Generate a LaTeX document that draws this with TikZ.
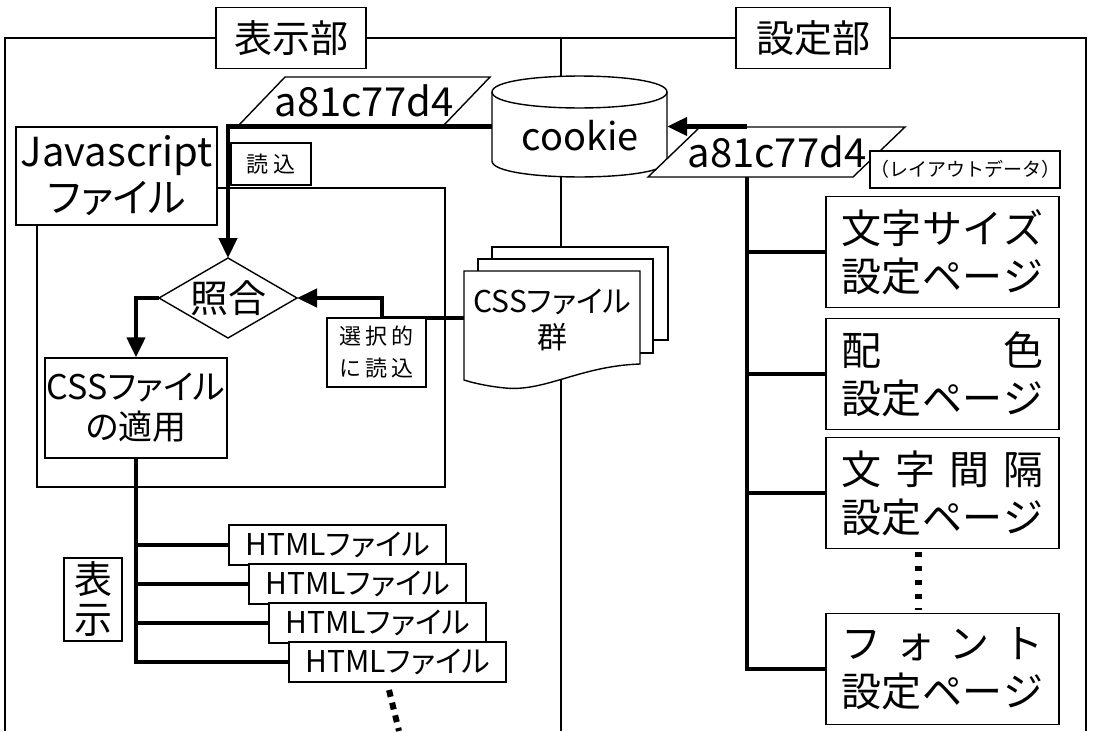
\documentclass[tikz,border=0pt]{standalone}
\usepackage{fontspec}
\setmainfont{Noto Sans CJK JP}
\newfontfamily\jpp[RawFeature=+palt]{Noto Sans CJK JP}
\usetikzlibrary{arrows.meta}
\newcommand{\setfs}[2]{\fontsize{#1}{#2}\selectfont}
\newcommand{\spreadline}[1]{\makebox[202pt][s]{#1}}
\tikzset{
  frm/.style={line width=1.3pt},
  boxline/.style={line width=1.4pt},
  boxn/.style={draw, line width=1.4pt, fill=white, inner sep=0pt},
  conn/.style={line width=4.5pt},
  arr/.style={-{Triangle[length=20pt,width=18pt]}},
  dots/.style={line width=7pt, dash pattern=on 5pt off 9pt}
}
\begin{document}
\begin{tikzpicture}[x=1pt,y=-1pt]
\useasboundingbox (0,0) rectangle (1094,731);
% titles
\node[boxn, minimum width=150pt, minimum height=61pt, font=\setfs{38}{38}] (t1) at (291,38) {表示部};
\node[boxn, minimum width=154pt, minimum height=61pt, font=\setfs{38}{38}] (t2) at (813,38) {設定部};
% frames
\draw[frm] (5,731) -- (5,38) -- (t1.west);
\draw[frm] (t1.east) -- (t2.west);
\draw[frm] (t2.east) -- (1086,38) -- (1086,731);
\draw[frm] (561,38) -- (561,731);
\draw[frm] (37,188) rectangle (445,487);
% Javascript box
\node[boxn, minimum width=201pt, minimum height=98pt, align=center, font=\setfs{40}{46}] (js) at (116.5,176) {Javascript\\{\jpp ファイル}};
% cookie cylinder
\node[minimum width=175pt, minimum height=101pt, inner sep=0pt] (ck) at (579.5,126.5) {};
\draw[boxline, fill=white] (492,92) .. controls (492,70.7) and (667,70.7) .. (667,92) -- (667,161) .. controls (667,182.3) and (492,182.3) .. (492,161) -- cycle;
\draw[boxline] (492,92) .. controls (492,113.3) and (667,113.3) .. (667,92);
\node[font=\setfs{38}{38}] (cktext) at (580,136) {cookie};
% left parallelogram
\draw[boxline, fill=white] (239,125) -- (285,77) -- (490,77) -- (444,125) -- cycle;
\node[font=\setfs{40}{40}] (pl) at (364,101) {a81c77d4};
% diamond
\coordinate (dtop) at (228,258);
\coordinate (dleft) at (159,298);
\coordinate (dright) at (297,298);
\coordinate (dbot) at (228,338);
\draw[boxline, fill=white] (dleft) -- (dtop) -- (dright) -- (dbot) -- cycle;
\node[font=\setfs{38}{38}] (dm) at (228,298) {照合};
\draw[conn, arr] (ck.west) -| (dtop);
\node[boxn, minimum width=80pt, minimum height=42pt, font=\setfs{22}{22}] (rd) at (271,164) {読\hspace{6pt}込};
% CSS document stack
\draw[boxline, fill=white] (492,247) rectangle (668,340);
\draw[boxline, fill=white] (478,259) rectangle (653,353);
\draw[boxline, fill=white] (464,271) -- (640,271) -- (640,364) .. controls (580,366) and (545,392) .. (505,388) .. controls (485,386) and (470,382) .. (464,380) -- cycle;
\node[align=center, font=\setfs{30}{36}\jpp] (css) at (552,320) {CSSファイル\\群};
\coordinate (cssw) at (464,318);
\draw[conn, arr] (cssw) -- ++(-82,0) |- (dright);
\node[boxn, minimum width=99pt, minimum height=69pt, align=center, font=\setfs{22}{32}] (sel) at (376.5,352.5) {選\,択\,的\\に\,読\,込};
% CSS apply
\node[boxn, minimum width=182pt, minimum height=100pt, align=center, font=\setfs{34}{40}\jpp] (cssa) at (136,408) {CSSファイル\\の適用};
\draw[conn, arr] (dleft) -| (cssa.north);
% HTML files
\node[boxn, minimum width=217pt, minimum height=40pt, font=\setfs{30}{30}\jpp] (h1) at (337.5,545) {HTMLファイル};
\node[boxn, minimum width=217pt, minimum height=40pt, font=\setfs{30}{30}\jpp] (h2) at (357.5,584) {HTMLファイル};
\node[boxn, minimum width=217pt, minimum height=40pt, font=\setfs{30}{30}\jpp] (h3) at (377.5,623) {HTMLファイル};
\node[boxn, minimum width=217pt, minimum height=40pt, font=\setfs{30}{30}\jpp] (h4) at (397.5,662) {HTMLファイル};
\draw[conn] (cssa.south) |- (h4.west);
\draw[conn] (cssa.south |- h1.west) -- (h1.west);
\draw[conn] (cssa.south |- h2.west) -- (h2.west);
\draw[conn] (cssa.south |- h3.west) -- (h3.west);
\node[boxn, minimum width=58pt, minimum height=83pt, align=center, font=\setfs{38}{40}] (hy) at (93,599.5) {表\\示};
\coordinate (hd1) at (389,690);
\coordinate (hd2) at (399,731);
\draw[line width=6pt, dash pattern=on 7pt off 6pt] (hd1) -- (hd2);
% right parallelogram
\draw[boxline, fill=white] (648,177) -- (700,127) -- (905,127) -- (853,177) -- cycle;
\node[font=\setfs{40}{40}] (pr) at (777,152) {a81c77d4};
\node[boxn, minimum width=184pt, minimum height=37pt, font=\setfs{19}{19}] (lay) at (965,169.5) {（レイアウトデータ）};
\coordinate (rj) at (747,126.5);
\draw[conn, arr] (rj) -- (ck.east);
% right boxes
\node[boxn, minimum width=233pt, minimum height=111pt, align=center, font=\setfs{40}{48}] (r1) at (942.5,252) {\spreadline{文\hfill 字\hfill サ\hfill イ\hfill ズ}\\\spreadline{設\hfill 定\hfill ペ\hfill ー\hfill ジ}};
\node[boxn, minimum width=233pt, minimum height=111pt, align=center, font=\setfs{40}{48}] (r2) at (942.5,374) {\spreadline{配\hfill 色}\\\spreadline{設\hfill 定\hfill ペ\hfill ー\hfill ジ}};
\node[boxn, minimum width=233pt, minimum height=111pt, align=center, font=\setfs{40}{48}] (r3) at (942.5,493) {\spreadline{文\hfill 字\hfill 間\hfill 隔}\\\spreadline{設\hfill 定\hfill ペ\hfill ー\hfill ジ}};
\node[boxn, minimum width=233pt, minimum height=111pt, align=center, font=\setfs{40}{48}] (r4) at (942.5,669) {\spreadline{フ\hfill ォ\hfill ン\hfill ト}\\\spreadline{設\hfill 定\hfill ペ\hfill ー\hfill ジ}};
\coordinate (rb) at (747,177);
\draw[conn] (rb) |- (r4.west);
\draw[conn] (rb |- r1.west) -- (r1.west);
\draw[conn] (rb |- r2.west) -- (r2.west);
\draw[conn] (rb |- r3.west) -- (r3.west);
\draw[dots] ([xshift=-24.5pt,yshift=-3pt]r3.south) -- ([xshift=-24.5pt,yshift=3pt]r4.north);
\end{tikzpicture}
\end{document}
